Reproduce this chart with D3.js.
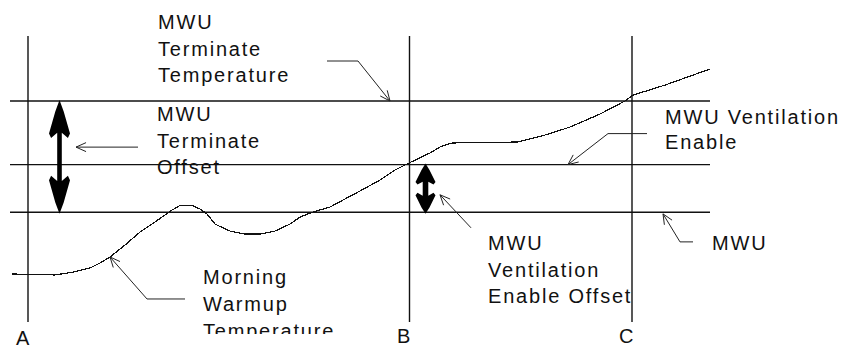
<!DOCTYPE html>
<html>
<head>
<meta charset="utf-8">
<script src="https://cdn.jsdelivr.net/npm/d3@7"></script>
<style>
  html, body { margin: 0; padding: 0; background: #fff; }
  svg { display: block; }
  text {
    font-family: "Liberation Sans", Arial, Helvetica, sans-serif;
    font-size: 20px;
    letter-spacing: 1.8px;
    fill: #111;
  }
</style>
</head>
<body>
<svg id="chart" width="852" height="350"></svg>
<script>
// Morning warm-up (MWU) sequence: space temperature over time against MWU set points.

// Time markers (minutes)
const markerLabels = ["A", "B", "C"];
const markerTimes = [3.6, 79.9, 124.4];

// Set-point levels (°F)
const levelNames = ["MWU Terminate Temperature", "MWU Ventilation Enable", "MWU"];
const levelValues = [72, 68, 65];

// Offsets between levels, shown as double-headed arrows
const offsetNames = ["MWU Terminate Offset", "MWU Ventilation Enable Offset"];
const offsetTimes = [9.9, 83.1];
const offsetLow = [65, 65];
const offsetHigh = [72, 68];

// Morning warm-up temperature trace
const warmupTimes = [0.4, 9, 13, 16, 18, 20, 23, 26, 29, 31, 32.4, 34, 36.4, 38, 39.4, 41, 44, 47, 50,
  53, 56, 58, 60.6, 64, 67, 70, 74, 77, 79.8, 84, 86, 88.4, 101.4, 107, 112, 118, 123, 124.6, 131, 140];
const warmupTemps = [61.12, 61.06, 61.26, 61.5, 61.81, 62.19, 62.94, 63.76, 64.39, 64.83, 65.14, 65.43,
  65.43, 65.21, 64.89, 64.26, 63.82, 63.63, 63.63, 63.82, 64.26, 64.70, 65.02, 65.33, 65.84, 66.34,
  67.03, 67.66, 68.1, 68.73, 69.11, 69.36, 69.42, 69.86, 70.36, 71.18, 72.0, 72.37, 73.0, 74.01];

const svg = d3.select("#chart");

const x = d3.scaleLinear().domain([0, 140]).range([10, 710]);
const y = d3.scaleLinear().domain([65, 72]).range([212.3, 101]);

const frameTop = 36, frameBottom = 322;
const ink = "#111";

// Horizontal set-point lines
svg.append("g").selectAll("line")
  .data(levelValues)
  .join("line")
  .attr("x1", x(0)).attr("x2", x(140))
  .attr("y1", d => y(d)).attr("y2", d => y(d))
  .attr("stroke", ink).attr("stroke-width", 1.4);

// Vertical time markers
svg.append("g").selectAll("line")
  .data(markerTimes)
  .join("line")
  .attr("x1", d => x(d)).attr("x2", d => x(d))
  .attr("y1", frameTop).attr("y2", frameBottom)
  .attr("stroke", ink).attr("stroke-width", 1.4);

svg.append("g").selectAll("text")
  .data(markerLabels)
  .join("text")
  .attr("x", (d, i) => x(markerTimes[i]) + [-12, -12.5, -13][i])
  .attr("y", (d, i) => [345, 343, 343][i])
  .text(d => d);

// Warm-up temperature trace
const line = d3.line()
  .x((d, i) => x(warmupTimes[i]))
  .y(d => y(d));
svg.append("path")
  .datum(warmupTemps)
  .attr("d", line)
  .attr("fill", "none")
  .attr("stroke", ink)
  .attr("stroke-width", 1.2)
  .attr("shape-rendering", "crispEdges");

// Double-headed offset arrows
function doubleArrow(cx, yT, yB, hl, hw, sw) {
  const p = [
    [cx, yT], [cx + hw * 0.4, yT + hl * 0.3], [cx + hw, yT + hl * 0.88], [cx + hw * 0.8, yT + hl],
    [cx + sw, yT + hl * 0.86],
    [cx + sw, yB - hl * 0.86], [cx + hw * 0.8, yB - hl], [cx + hw, yB - hl * 0.88],
    [cx + hw * 0.4, yB - hl * 0.3], [cx, yB],
    [cx - hw * 0.4, yB - hl * 0.3], [cx - hw, yB - hl * 0.88], [cx - hw * 0.8, yB - hl],
    [cx - sw, yB - hl * 0.86],
    [cx - sw, yT + hl * 0.86], [cx - hw * 0.8, yT + hl], [cx - hw, yT + hl * 0.88],
    [cx - hw * 0.4, yT + hl * 0.3]
  ];
  return "M" + p.map(q => q.join(",")).join("L") + "Z";
}
const arrowShape = [{ hl: 38, hw: 10.5, sw: 2.3 }, { hl: 21, hw: 10, sw: 2.8 }];
svg.append("g").selectAll("path")
  .data(offsetNames)
  .join("path")
  .attr("d", (d, i) => doubleArrow(x(offsetTimes[i]), y(offsetHigh[i]) - 1, y(offsetLow[i]) + 1.5,
    arrowShape[i].hl, arrowShape[i].hw, arrowShape[i].sw))
  .attr("fill", "#000");

// Callouts: tip in data units, leader bends given as pixel offsets from the tip
const callouts = [
  { lines: ["MWU", "Terminate", "Temperature"], tx: 158, ty: 29, lh: 26.5,
    tip: [76, 72], bends: [[-32, -40], [-63, -40]] },
  { lines: ["MWU", "Terminate", "Offset"], tx: 157, ty: 121, lh: 26.5,
    tip: [13.2, 69.1], bends: [[62, 0]] },
  { lines: ["MWU Ventilation", "Enable"], tx: 665, ty: 124, lh: 25,
    tip: [111.6, 68], bends: [[40, -31], [79, -31]] },
  { lines: ["MWU", "Ventilation", "Enable Offset"], tx: 488, ty: 250, lh: 26.5,
    tip: [86, 66.1], bends: [[31, 33]] },
  { lines: ["MWU"], tx: 712, ty: 250, lh: 26.5,
    tip: [130.6, 64.9], bends: [[17, 28], [30, 28]] },
  { lines: ["Morning", "Warmup", "Temperature"], tx: 203, ty: 284, lh: 27,
    tip: [20, 62.19], bends: [[37, 42], [75, 42]], clip: 334 }
];

const defs = svg.append("defs");
callouts.forEach((c, k) => {
  const tipX = x(c.tip[0]), tipY = y(c.tip[1]);
  const pts = [[tipX, tipY]].concat(c.bends.map(b => [tipX + b[0], tipY + b[1]])).reverse();
  svg.append("path")
    .attr("d", d3.line()(pts))
    .attr("fill", "none").attr("stroke", "#222").attr("stroke-width", 1);

  // open arrowhead at the tip
  const prev = pts[pts.length - 2];
  const ang = Math.atan2(tipY - prev[1], tipX - prev[0]);
  const len = 11, spread = 0.42;
  const barb = s => [tipX - len * Math.cos(ang + s), tipY - len * Math.sin(ang + s)];
  svg.append("path")
    .attr("d", d3.line()([barb(spread), [tipX, tipY], barb(-spread)]))
    .attr("fill", "none").attr("stroke", "#222").attr("stroke-width", 1);

  const t = svg.append("text").attr("x", c.tx).attr("y", c.ty);
  if (c.clip) {
    defs.append("clipPath").attr("id", "clip" + k)
      .append("rect").attr("x", 0).attr("y", 0).attr("width", 852).attr("height", c.clip);
    t.attr("clip-path", `url(#clip${k})`);
  }
  c.lines.forEach((s, i) => {
    t.append("tspan").attr("x", c.tx).attr("y", c.ty + i * c.lh).text(s);
  });
});
</script>
</body>
</html>
